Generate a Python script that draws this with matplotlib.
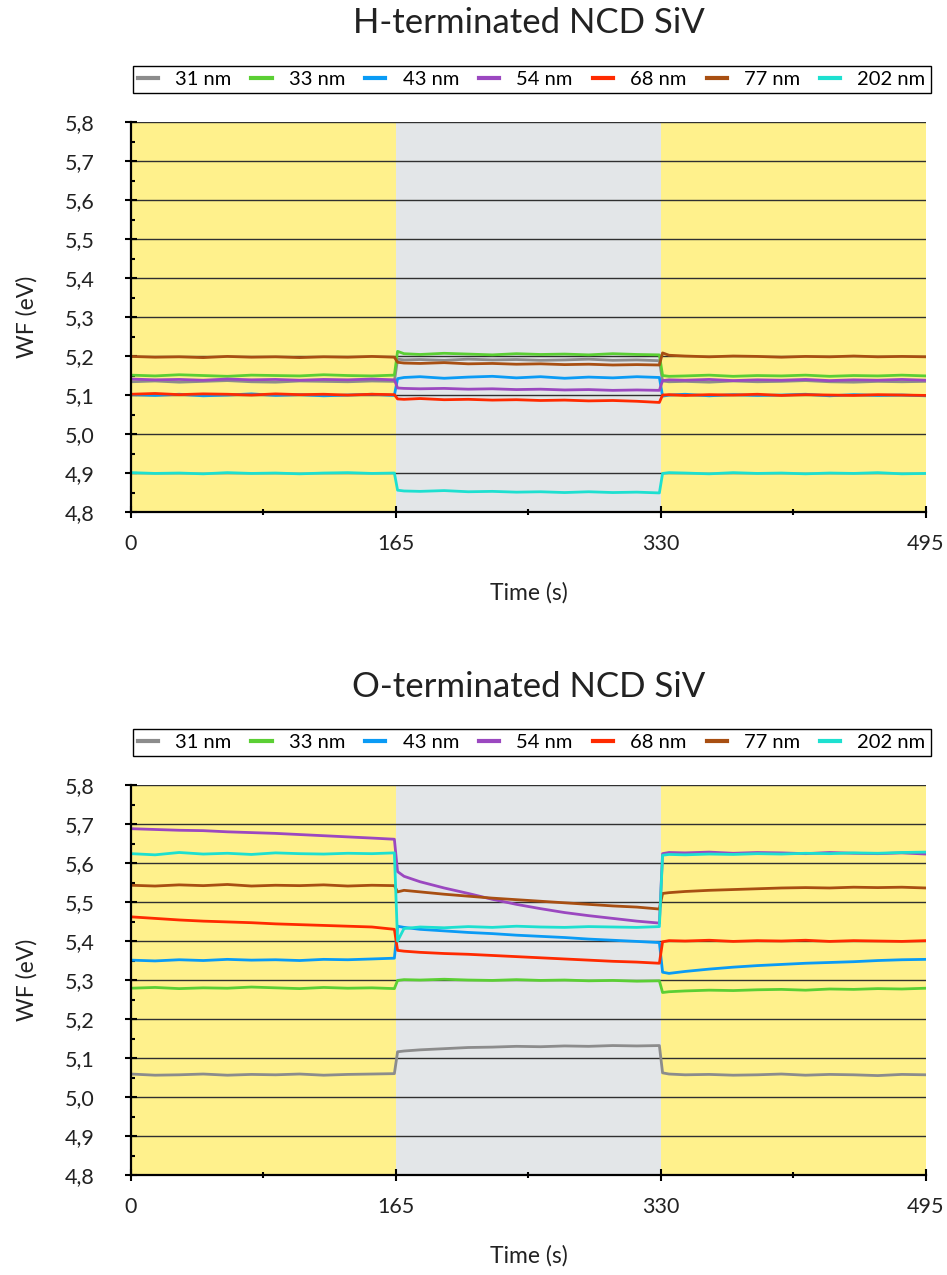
import numpy as np
import matplotlib
matplotlib.use("Agg")
import matplotlib.pyplot as plt
from matplotlib.ticker import FuncFormatter, MultipleLocator, FixedLocator

plt.rcParams['font.family'] = ['Lato', 'DejaVu Sans']

# time grid (s)
t = [0, 15, 30, 45, 60, 75, 90, 105, 120, 135, 150, 164,
     166, 170, 180, 195, 210, 225, 240, 255, 270, 285, 300, 315, 329,
     331, 335, 345, 360, 375, 390, 405, 420, 435, 450, 465, 480, 495]

labels = ['31 nm', '33 nm', '43 nm', '54 nm', '68 nm', '77 nm', '202 nm']
colors = ['#8C8C8C', '#5BCF34', '#0A9BF5', '#9B48C0', '#FF2A00', '#A84F12', '#1DE0D0']

# H-terminated NCD SiV, WF (eV)
h31 = [5.134, 5.136, 5.133, 5.135, 5.137, 5.134, 5.133, 5.136, 5.135, 5.134, 5.136, 5.135,
       5.192, 5.190, 5.191, 5.189, 5.192, 5.190, 5.191, 5.189, 5.190, 5.192, 5.189, 5.190, 5.188,
       5.136, 5.134, 5.135, 5.133, 5.136, 5.134, 5.135, 5.137, 5.134, 5.133, 5.135, 5.134, 5.135]
h33 = [5.151, 5.149, 5.152, 5.150, 5.148, 5.151, 5.150, 5.149, 5.152, 5.150, 5.149, 5.151,
       5.212, 5.206, 5.204, 5.207, 5.205, 5.203, 5.206, 5.204, 5.205, 5.203, 5.206, 5.204, 5.203,
       5.150, 5.148, 5.149, 5.151, 5.148, 5.150, 5.149, 5.151, 5.148, 5.150, 5.149, 5.151, 5.149]
h43 = [5.101, 5.099, 5.102, 5.098, 5.100, 5.103, 5.099, 5.101, 5.098, 5.100, 5.102, 5.099,
       5.142, 5.145, 5.147, 5.143, 5.146, 5.148, 5.144, 5.147, 5.143, 5.146, 5.144, 5.147, 5.145,
       5.097, 5.100, 5.102, 5.098, 5.101, 5.099, 5.100, 5.102, 5.098, 5.101, 5.099, 5.100, 5.098]
h54 = [5.141, 5.139, 5.140, 5.138, 5.141, 5.139, 5.140, 5.138, 5.140, 5.139, 5.141, 5.139,
       5.118, 5.117, 5.116, 5.117, 5.115, 5.116, 5.114, 5.115, 5.113, 5.114, 5.112, 5.113, 5.112,
       5.137, 5.139, 5.138, 5.140, 5.137, 5.139, 5.138, 5.140, 5.137, 5.139, 5.138, 5.140, 5.138]
h68 = [5.102, 5.104, 5.101, 5.103, 5.102, 5.100, 5.103, 5.101, 5.102, 5.100, 5.102, 5.101,
       5.090, 5.089, 5.091, 5.088, 5.089, 5.087, 5.088, 5.086, 5.087, 5.085, 5.086, 5.084, 5.081,
       5.100, 5.101, 5.099, 5.101, 5.100, 5.102, 5.099, 5.101, 5.100, 5.099, 5.101, 5.100, 5.099]
h77 = [5.199, 5.197, 5.198, 5.196, 5.199, 5.197, 5.198, 5.196, 5.198, 5.197, 5.199, 5.197,
       5.184, 5.182, 5.181, 5.183, 5.180, 5.181, 5.179, 5.180, 5.178, 5.179, 5.177, 5.178, 5.177,
       5.208, 5.202, 5.200, 5.198, 5.200, 5.199, 5.197, 5.199, 5.198, 5.200, 5.198, 5.199, 5.198]
h202 = [4.901, 4.899, 4.900, 4.898, 4.901, 4.899, 4.900, 4.898, 4.900, 4.901, 4.899, 4.900,
        4.856, 4.854, 4.853, 4.855, 4.852, 4.853, 4.851, 4.852, 4.850, 4.852, 4.850, 4.851, 4.849,
        4.899, 4.901, 4.900, 4.898, 4.901, 4.899, 4.900, 4.898, 4.900, 4.899, 4.901, 4.898, 4.899]

# O-terminated NCD SiV, WF (eV)
o31 = [5.059, 5.056, 5.057, 5.059, 5.056, 5.058, 5.057, 5.059, 5.056, 5.058, 5.059, 5.060,
       5.116, 5.118, 5.121, 5.124, 5.127, 5.128, 5.130, 5.129, 5.131, 5.130, 5.132, 5.131, 5.132,
       5.062, 5.059, 5.057, 5.058, 5.056, 5.057, 5.059, 5.056, 5.058, 5.057, 5.055, 5.058, 5.057]
o33 = [5.279, 5.281, 5.278, 5.280, 5.279, 5.282, 5.280, 5.278, 5.281, 5.279, 5.280, 5.278,
       5.299, 5.301, 5.300, 5.302, 5.300, 5.299, 5.301, 5.299, 5.300, 5.298, 5.299, 5.297, 5.298,
       5.268, 5.270, 5.272, 5.274, 5.273, 5.275, 5.276, 5.274, 5.277, 5.276, 5.278, 5.277, 5.279]
o43 = [5.351, 5.349, 5.352, 5.350, 5.353, 5.351, 5.352, 5.350, 5.353, 5.352, 5.354, 5.356,
       5.438, 5.435, 5.430, 5.426, 5.422, 5.419, 5.415, 5.412, 5.409, 5.405, 5.402, 5.399, 5.396,
       5.320, 5.317, 5.322, 5.328, 5.333, 5.337, 5.340, 5.343, 5.345, 5.347, 5.350, 5.352, 5.353]
o54 = [5.688, 5.686, 5.684, 5.683, 5.680, 5.678, 5.676, 5.673, 5.670, 5.667, 5.664, 5.661,
       5.578, 5.566, 5.552, 5.536, 5.522, 5.507, 5.494, 5.483, 5.473, 5.465, 5.458, 5.451, 5.446,
       5.624, 5.627, 5.626, 5.628, 5.625, 5.627, 5.626, 5.624, 5.627, 5.625, 5.624, 5.626, 5.623]
o68 = [5.462, 5.458, 5.454, 5.451, 5.449, 5.447, 5.444, 5.442, 5.440, 5.438, 5.436, 5.430,
       5.376, 5.374, 5.371, 5.368, 5.366, 5.363, 5.360, 5.357, 5.354, 5.351, 5.348, 5.346, 5.343,
       5.398, 5.401, 5.400, 5.402, 5.399, 5.401, 5.400, 5.402, 5.399, 5.401, 5.400, 5.399, 5.401]
o77 = [5.543, 5.541, 5.544, 5.542, 5.545, 5.541, 5.543, 5.542, 5.544, 5.541, 5.543, 5.542,
       5.526, 5.530, 5.526, 5.520, 5.515, 5.510, 5.506, 5.502, 5.498, 5.494, 5.490, 5.487, 5.482,
       5.522, 5.524, 5.527, 5.530, 5.532, 5.534, 5.536, 5.537, 5.536, 5.538, 5.537, 5.538, 5.536]
o202 = [5.624, 5.621, 5.627, 5.623, 5.625, 5.622, 5.626, 5.624, 5.623, 5.625, 5.624, 5.626,
        5.400, 5.432, 5.436, 5.434, 5.437, 5.435, 5.438, 5.436, 5.435, 5.437, 5.436, 5.435, 5.437,
        5.620, 5.622, 5.621, 5.623, 5.622, 5.624, 5.623, 5.625, 5.624, 5.626, 5.625, 5.627, 5.628]

panels = [
    ('H-terminated NCD SiV', [h31, h33, h43, h54, h68, h77, h202]),
    ('O-terminated NCD SiV', [o31, o33, o43, o54, o68, o77, o202]),
]

fig = plt.figure(figsize=(9.47, 12.75), dpi=100)
ax_rects = [[0.1383, 0.5984, 0.8395, 0.3059],
            [0.1383, 0.0784, 0.8395, 0.3059]]
title_y = [0.9741, 0.4533]

for k, (title, series) in enumerate(panels):
    ax = fig.add_axes(ax_rects[k])
    ax.axvspan(0, 165, color='#FFF18C', lw=0, zorder=0)
    ax.axvspan(165, 330, color='#E3E6E8', lw=0, zorder=0)
    ax.axvspan(330, 495, color='#FFF18C', lw=0, zorder=0)

    for vals, lab, col in zip(series, labels, colors):
        ax.plot(t, vals, color=col, lw=2.0, label=lab, zorder=3)

    ax.set_xlim(0, 495)
    ax.set_ylim(4.8, 5.8)
    ax.xaxis.set_major_locator(FixedLocator([0, 165, 330, 495]))
    ax.xaxis.set_minor_locator(FixedLocator([82.5, 247.5, 412.5]))
    ax.yaxis.set_major_locator(MultipleLocator(0.1))
    ax.yaxis.set_minor_locator(MultipleLocator(0.05))
    ax.yaxis.set_major_formatter(FuncFormatter(lambda v, p: ('%.1f' % v).replace('.', ',')))

    ax.grid(axis='y', which='major', color='#303030', lw=1.0, zorder=1)
    ax.set_axisbelow(True)
    for s in ['top', 'right']:
        ax.spines[s].set_visible(False)
    for s in ['left', 'bottom']:
        ax.spines[s].set_linewidth(1.6)
        ax.spines[s].set_zorder(4)

    ax.tick_params(axis='both', which='major', direction='inout', length=8, width=1.5,
                   labelsize=15.5, colors='black', labelcolor='#222222')
    ax.tick_params(axis='y', which='major', pad=22)
    ax.tick_params(axis='x', which='major', pad=12)
    ax.tick_params(axis='y', which='minor', direction='in', length=3, width=1.5)
    ax.tick_params(axis='x', which='minor', direction='inout', length=5, width=1.5)

    ax.set_ylabel('WF (eV)', fontsize=16.5, color='#222222')
    ax.yaxis.set_label_coords(-0.118, 0.5)
    ax.set_xlabel('Time (s)', fontsize=16.5, color='#222222')
    ax.xaxis.set_label_coords(0.5, -0.18)

    leg = ax.legend(loc='lower center', bbox_to_anchor=(0.504, 1.0744),
                    ncol=7, fontsize=14.5, handlelength=1.0,
                    handletextpad=0.85, columnspacing=1.0, borderaxespad=0,
                    fancybox=False, edgecolor='black', framealpha=1, borderpad=0.25)
    leg.get_frame().set_linewidth(1.0)
    for h in leg.get_lines():
        h.set_linewidth(3)

    fig.text(0.558, title_y[k], title, fontsize=25, ha='center', va='baseline', color='#222222')

fig.savefig('out.png', dpi=100)
